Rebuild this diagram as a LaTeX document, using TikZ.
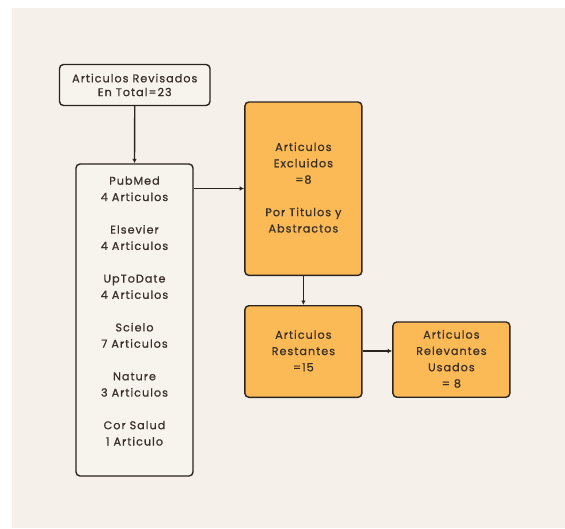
\documentclass[tikz,border=0pt]{standalone}
\usepackage{fontspec}
\setmainfont{Poppins}[LetterSpace=9,FakeBold=0.8]
\usetikzlibrary{arrows.meta}
\definecolor{bgc}{HTML}{F5F1EA}
\definecolor{boxc}{HTML}{F7F4EE}
\definecolor{orc}{HTML}{FBBA55}
\definecolor{edgec}{HTML}{2B2320}
\definecolor{txtc}{HTML}{3A302A}
\tikzset{
  x=1pt,y=1pt,
  flowbox/.style={draw=edgec, line width=1.4pt, rounded corners=4pt, inner sep=0pt},
  plainbox/.style={flowbox, fill=boxc},
  orbox/.style={flowbox, fill=orc},
  label/.style={text=txtc, align=center, font=\fontsize{11.2}{16.3}\selectfont, inner sep=0pt},
  conn/.style={draw=edgec, line width=1.4pt, -{Latex[length=4.5pt,width=4.5pt]}}
}
\begin{document}
\begin{tikzpicture}
\useasboundingbox (0,0) rectangle (565,-528);
\fill[white] (0,0) rectangle (565,-528);
\fill[bgc] (12,-8) rectangle (565,-528);
% boxes
\node[plainbox, minimum width=150.5, minimum height=41] (top) at (134.75,-85) {};
\node[label, font=\fontsize{11.2}{13.8}\selectfont] (toptxt) at (134.75,-85) {Articulos Revisados\\En Total=23};
\node[plainbox, minimum width=117, minimum height=312] (list) at (134.5,-320) {};
\node[label] (listtxt) at (134.5,-311) {PubMed\\4 Articulos\\[16.3pt]Elsevier\\4 Articulos\\[16.3pt]UpToDate\\4 Articulos\\[16.3pt]Scielo\\7 Articulos\\[16.3pt]Nature\\3 Articulos\\[16.3pt]Cor Salud\\1 Articulo};
\node[orbox, minimum width=117, minimum height=173.4] (excl) at (303.4,-188.7) {};
\node[label] (excltxt) at (303.4,-187.5) {Articulos\\Excluidos\\=8\\[16.3pt]Por Titulos y\\Abstractos};
\node[orbox, minimum width=117, minimum height=91.6] (rest) at (303.4,-351.5) {};
\node[label] (resttxt) at (303.4,-350.8) {Articulos\\Restantes\\=15};
\node[orbox, minimum width=117, minimum height=75.3] (rel) at (451.4,-359.6) {};
\node[label] (reltxt) at (451.4,-358.9) {Articulos\\Relevantes\\Usados\\= 8};
% connectors
\draw[conn] (top.south) -- (list.north);
\draw[conn] (list.east |- 0,-188.5) -- (excl.west |- 0,-188.5);
\draw[conn] (excl.south) -- (rest.north);
\draw[conn] (rest.east |- 0,-351) -- (rel.west |- 0,-351);
\end{tikzpicture}
\end{document}
